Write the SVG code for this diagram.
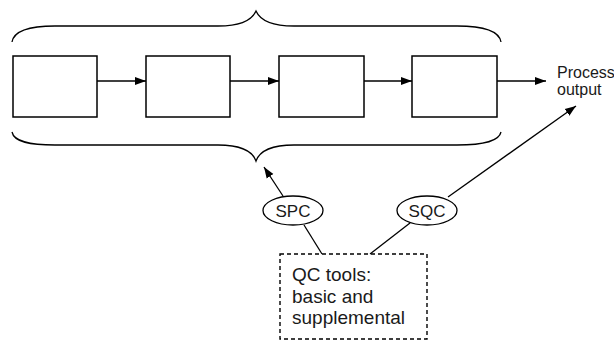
<svg xmlns="http://www.w3.org/2000/svg" width="614" height="342" viewBox="0 0 614 342">
<defs>
<style>
.box{fill:#fff;stroke:#000;stroke-width:1.5}
.ln{fill:none;stroke:#000;stroke-width:1.3}
.el{fill:#fff;stroke:#000;stroke-width:1.3}
.t{font-family:"Liberation Sans",Arial,sans-serif;fill:#1a1a1a}
.dash{fill:#fff;stroke:#000;stroke-width:1.4;stroke-dasharray:4 3}
</style>
<marker id="ah" markerUnits="userSpaceOnUse" markerWidth="12" markerHeight="10" refX="11" refY="5" orient="auto">
<path d="M0,1 L11,5 L0,9 Z" fill="#000"/>
</marker>
</defs>
<rect width="614" height="342" fill="#fff"/>
<g id="brace-top"><path class="ln" d="M12,42 C14,30 30,26 55,26 L218,26 C240,26 252,20 256,11 C260,20 272,26 294,26 L457,26 C482,26 499,30 501,42"/></g>
<g id="brace-bottom"><path class="ln" d="M12,132 C14,142 30,145 55,145 L218,145 C240,145 252,150 256,161 C260,150 272,145 294,145 L457,145 C482,145 499,142 501,132"/></g>
<g id="box1"><rect class="box" x="13" y="56" width="84" height="61"/></g>
<g id="box2"><rect class="box" x="146" y="56" width="84" height="61"/></g>
<g id="box3"><rect class="box" x="279" y="56" width="85" height="61"/></g>
<g id="box4"><rect class="box" x="412" y="56" width="85" height="61"/></g>
<g id="output"><text class="t" x="557" y="78" font-size="16">Process</text><text class="t" x="557" y="95" font-size="16">output</text></g>
<g id="spc"><ellipse class="el" cx="293" cy="210.5" rx="30" ry="14.5"/><text class="t" x="293" y="217" font-size="17" text-anchor="middle">SPC</text></g>
<g id="sqc"><ellipse class="el" cx="427" cy="210.5" rx="30" ry="14.5"/><text class="t" x="427" y="217" font-size="17" text-anchor="middle">SQC</text></g>
<g id="qc-tools"><rect class="dash" x="280" y="254" width="147" height="85"/>
<text class="t" font-size="19"><tspan x="292" y="281">QC tools:</tspan><tspan x="292" y="303">basic and</tspan><tspan x="292" y="324">supplemental</tspan></text></g>
<g id="connectors">
<line class="ln" x1="97" y1="81" x2="146" y2="81" marker-end="url(#ah)"/>
<line class="ln" x1="230" y1="81" x2="279" y2="81" marker-end="url(#ah)"/>
<line class="ln" x1="364" y1="81" x2="412" y2="81" marker-end="url(#ah)"/>
<line class="ln" x1="497" y1="81" x2="546" y2="81" marker-end="url(#ah)"/>
<line class="ln" x1="283" y1="196" x2="264" y2="167" marker-end="url(#ah)"/>
<line class="ln" x1="448" y1="197" x2="576" y2="106" marker-end="url(#ah)"/>
<line class="ln" x1="304" y1="225" x2="322" y2="254"/>
<line class="ln" x1="410" y1="223" x2="370" y2="254"/>
</g>
</svg>
